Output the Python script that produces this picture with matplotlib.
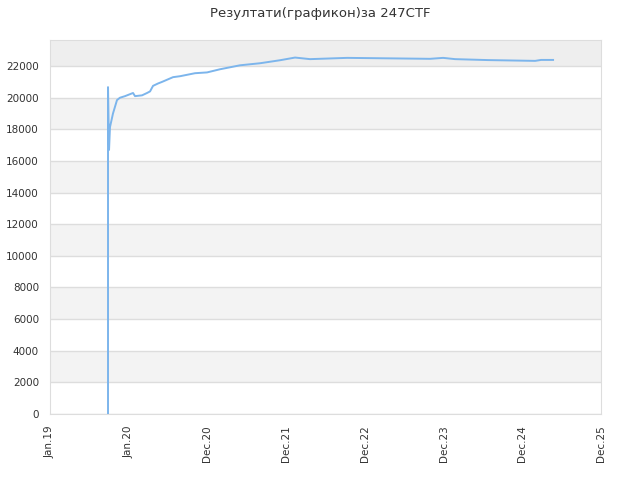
import matplotlib
matplotlib.use('Agg')
import matplotlib.pyplot as plt

# x in tick units (0 = Jan.19, 1 = Jan.20, ... 7 = Dec.25), y = score
tick_labels = ['Jan.19', 'Jan.20', 'Dec.20', 'Dec.21', 'Dec.22', 'Dec.23', 'Dec.24', 'Dec.25']
score_x = [0.737, 0.737, 0.750, 0.762, 0.800, 0.851, 0.889, 0.953, 1.055, 1.080, 1.169, 1.233,
           1.271, 1.309, 1.372, 1.423, 1.563, 1.652, 1.842, 1.995, 2.160, 2.414, 2.668, 2.922,
           3.113, 3.304, 3.774, 4.828, 4.994, 5.146, 5.565, 6.163, 6.239, 6.391]
score_y = [0, 20670, 16700, 18140, 19000, 19850, 20000, 20100, 20300, 20100, 20150, 20300,
           20400, 20750, 20900, 21000, 21300, 21360, 21550, 21600, 21800, 22050, 22180, 22370,
           22540, 22440, 22520, 22460, 22520, 22440, 22380, 22330, 22390, 22390]

y_max = 23650

fig = plt.figure(figsize=(6.4, 4.8), dpi=100)
ax = fig.add_axes([50 / 640, 66 / 480, 551 / 640, 374 / 480])

for lo in range(2000, 24000, 4000):
    ax.axhspan(lo, lo + 2000, color='#f3f3f3', lw=0, zorder=0)
ax.axhspan(22000, y_max, color='#eeeeee', lw=0, zorder=0)

ax.plot(score_x, score_y, color='#7cb5ec', lw=1.4, zorder=3)

ax.set_xlim(0, 7)
ax.set_ylim(0, y_max)
ax.set_xticks(range(len(tick_labels)))
ax.set_xticklabels(tick_labels, rotation=90)
ax.set_yticks(range(0, 24000, 2000))
ax.yaxis.grid(True, color='#dddddd', lw=1)
ax.set_axisbelow(True)
ax.tick_params(length=0, labelsize=7.5, colors='#333333', pad=8)
for s in ax.spines.values():
    s.set_color('#dddddd')

fig.suptitle('Резултати(графикон)за 247CTF', y=0.985, fontsize=9.5, color='#333333')

fig.savefig('out.png', dpi=100)
